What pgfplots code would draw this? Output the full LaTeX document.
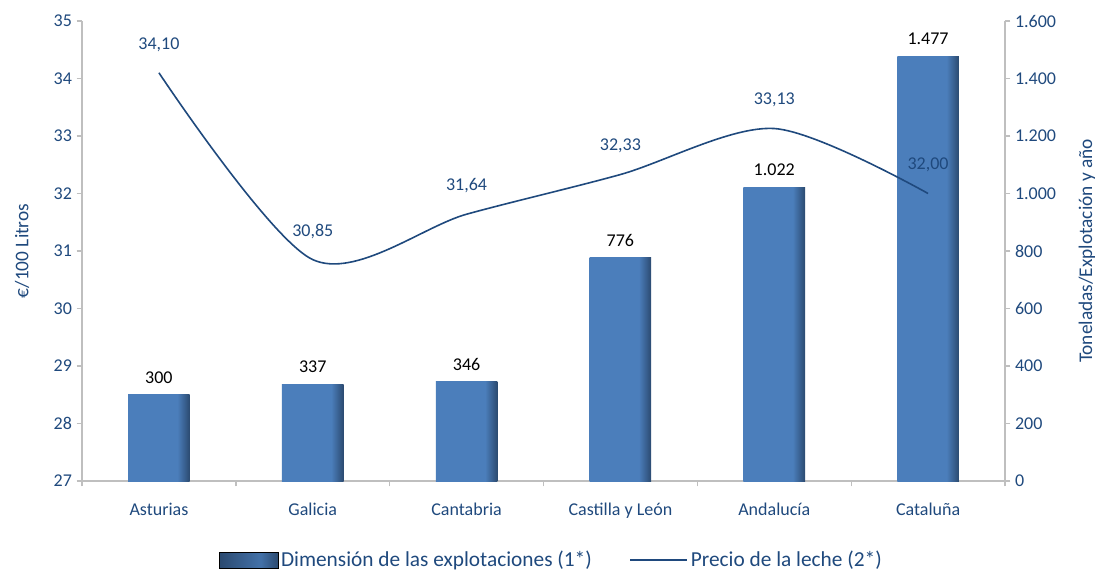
\documentclass[border=0pt]{standalone}
\usepackage{pgfplots}
\pgfplotsset{compat=1.18}
\usepackage{fontspec}
\setmainfont{Carlito}
\definecolor{barblue}{HTML}{4B7EBB}
\definecolor{bardark}{HTML}{2B4A70}
\definecolor{txtblue}{HTML}{1F497D}
\definecolor{linecol}{HTML}{1F497D}
\definecolor{axgray}{HTML}{BFBFBF}
\pgfdeclarehorizontalshading{barshade}{100bp}{color(0bp)=(barblue); color(25bp)=(barblue); color(65bp)=(barblue); color(75bp)=(bardark); color(100bp)=(bardark)}
\pgfdeclarehorizontalshading{legshade}{100bp}{color(0bp)=(bardark); color(25bp)=(bardark); color(60bp)=(barblue!75!bardark); color(75bp)=(bardark); color(100bp)=(bardark)}
\begin{document}
\begin{tikzpicture}
\useasboundingbox (-61.5pt,-67.5pt) rectangle (759.75pt,360.75pt);
\begin{axis}[
  scale only axis, width=692.25pt, height=345pt,
  at={(0pt,0pt)}, anchor=south west,
  xmin=-0.5, xmax=5.5, ymin=0, ymax=1600,
  axis y line*=right, axis x line*=bottom,
  axis line style={draw=axgray, line width=1pt},
  xtick={0,...,5},
  xticklabels={Asturias,Galicia,Cantabria,Castilla y León,Andalucía,Cataluña},
  xticklabel style={yshift=-9pt},
  minor xtick={-0.5,0.5,1.5,2.5,3.5,4.5,5.5},
  major x tick style={draw=none},
  minor x tick style={draw=axgray, line width=1pt},
  ytick={0,200,...,1600},
  y tick style={draw=axgray, line width=1pt},
  tick align=outside, major tick length=4pt, minor tick length=4pt,
  ticklabel style={font=\fontsize{13.5}{15}\selectfont, text=txtblue},
  /pgf/number format/assume math mode=true,
  /pgf/number format/1000 sep={.},
  ylabel={Toneladas/Explotación y año},
  ylabel style={font=\fontsize{14.5}{16}\selectfont, text=txtblue,
    at={(axis description cs:1,0.5)}, anchor=center, yshift=-61.5pt},
  ybar, bar width=0.4,
  nodes near coords,
  nodes near coords style={font=\fontsize{13.5}{15}\selectfont, text=black, yshift=5pt},
  mybar/.style={shading=barshade, draw=none, bar shift=0pt},
]
\addplot[mybar] coordinates {(0,300)};
\addplot[mybar] coordinates {(1,337)};
\addplot[mybar] coordinates {(2,346)};
\addplot[mybar] coordinates {(3,776)};
\addplot[mybar] coordinates {(4,1022)};
\addplot[mybar] coordinates {(5,1477)};
\end{axis}
\begin{axis}[
  scale only axis, width=692.25pt, height=345pt,
  at={(0pt,0pt)}, anchor=south west,
  xmin=-0.5, xmax=5.5, ymin=27, ymax=35,
  axis y line*=left, axis x line=none,
  axis line style={draw=axgray, line width=1pt},
  ytick={27,...,35},
  y tick style={draw=axgray, line width=1pt},
  tick align=outside, major tick length=4pt,
  ticklabel style={font=\fontsize{13.5}{15}\selectfont, text=txtblue},
  /pgf/number format/assume math mode=true,
  ylabel={€/100 Litros},
  ylabel style={font=\fontsize{14.5}{16}\selectfont, text=txtblue,
    at={(axis description cs:0,0.5)}, anchor=center, yshift=45pt},
  legend columns=2,
  legend style={at={(0.509,-0.172)}, anchor=center, draw=none, fill=none,
    font=\fontsize{16}{18}\selectfont, text=txtblue,
    /tikz/every even column/.append style={column sep=26pt}},
]
\addlegendimage{legend image code/.code={\fill[shading=legshade] (0pt,-6pt) rectangle (44pt,6pt);}}
\addlegendentry{Dimensión de las explotaciones (1*)}
\addplot[linecol, line width=1.2pt, smooth, mark=none,
  nodes near coords,
  nodes near coords style={font=\fontsize{13.5}{15}\selectfont, text=txtblue, yshift=12pt,
    /pgf/number format/fixed, /pgf/number format/fixed zerofill,
    /pgf/number format/precision=2, /pgf/number format/use comma},
  legend image code/.code={\draw[linecol, line width=1.2pt] (0pt,0pt) -- (43pt,0pt);}]
  coordinates {(0,34.10) (1,30.85) (2,31.64) (3,32.33) (4,33.13) (5,32.00)};
\addlegendentry{Precio de la leche (2*)}
\end{axis}
\end{tikzpicture}
\end{document}
